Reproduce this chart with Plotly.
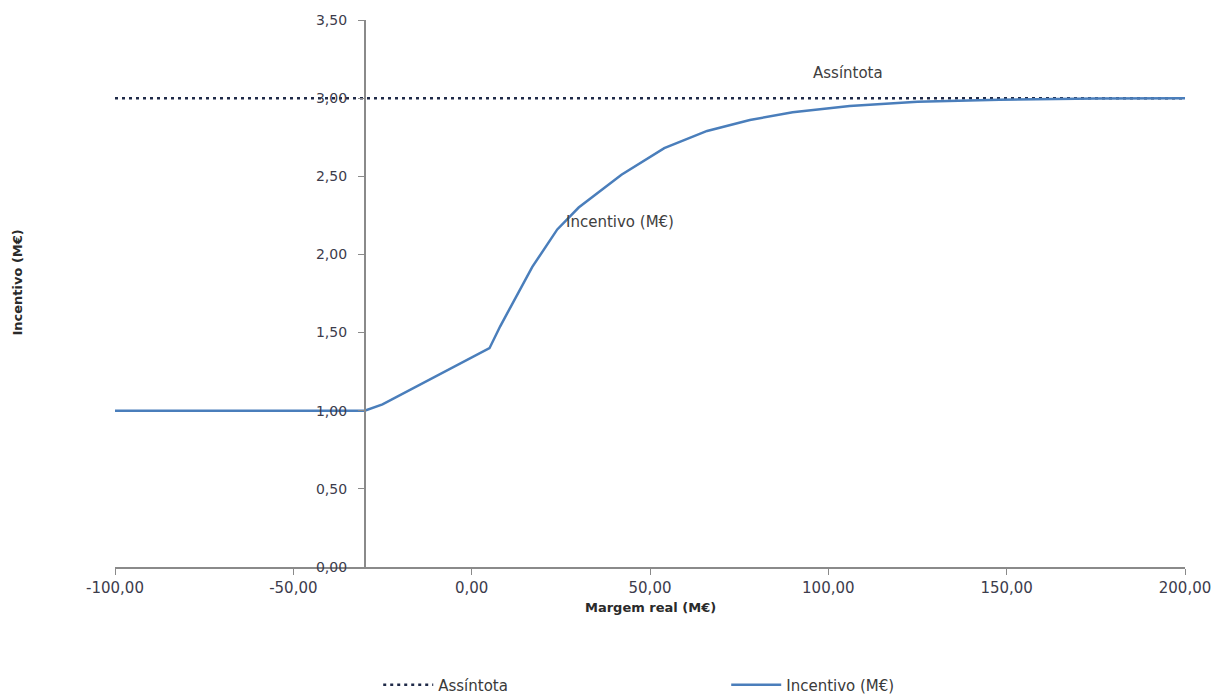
import plotly.graph_objects as go

# Curve: incentive as a function of the real margin (both in M€)
margem = [-100, -30, -25, 5, 8, 17, 24, 30, 42, 54, 66, 78, 90, 106, 125, 148, 175, 200]
incentivo = [1.00, 1.00, 1.04, 1.40, 1.54, 1.92, 2.16, 2.30, 2.51, 2.68, 2.79, 2.86,
             2.91, 2.95, 2.977, 2.99, 2.997, 3.00]

# Horizontal asymptote
assintota_x = [-100, 200]
assintota_y = [3.00, 3.00]

x_ticks = [-100, -50, 0, 50, 100, 150, 200]
y_ticks = [0, 0.5, 1.0, 1.5, 2.0, 2.5, 3.0, 3.5]


def pt(v):
    return f"{v:,.2f}".replace(",", " ").replace(".", ",")


FONT = "DejaVu Sans"
TICK_COLOR = "#3c3c4c"
AXIS_COLOR = "#8a8a8a"

fig = go.Figure()
fig.add_trace(go.Scatter(
    x=assintota_x, y=assintota_y, mode="lines", name="Assíntota",
    line=dict(color="#1f2a48", width=2.5, dash="3px,4px"),
))
fig.add_trace(go.Scatter(
    x=margem, y=incentivo, mode="lines", name="Incentivo (M€)",
    line=dict(color="#4a7ebb", width=2.5),
))

fig.update_layout(
    width=1216, height=695,
    margin=dict(l=115, r=31, t=20, b=128, autoexpand=False),
    paper_bgcolor="white", plot_bgcolor="white",
    font=dict(family=FONT, size=13, color=TICK_COLOR),
    showlegend=True,
    legend=dict(
        orientation="h", x=0.246, xanchor="left", y=-0.2157, yanchor="middle",
        itemwidth=50, entrywidth=283, entrywidthmode="pixels",
        font=dict(family=FONT, size=15, color="#3a3a3a"),
    ),
    xaxis=dict(
        range=[-100, 200], domain=[0, 1],
        tickvals=x_ticks, ticktext=[pt(v) for v in x_ticks],
        showgrid=False, zeroline=False,
        showline=True, linecolor=AXIS_COLOR, linewidth=1.5,
        ticks="outside", ticklen=6, tickcolor=AXIS_COLOR,
        tickfont=dict(family=FONT, size=15, color=TICK_COLOR),
    ),
    yaxis=dict(
        range=[0, 3.5], anchor="free", position=(-30 + 100) / 300,
        tickvals=y_ticks, ticktext=[pt(v) for v in y_ticks],
        showgrid=False, zeroline=False,
        showline=True, linecolor=AXIS_COLOR, linewidth=1.5,
        ticks="outside", ticklen=6, tickcolor=AXIS_COLOR,
        ticklabelstandoff=8,
        tickfont=dict(family=FONT, size=14, color=TICK_COLOR),
    ),
    annotations=[
        dict(text="<b>Margem real (M€)</b>", xref="paper", yref="paper",
             x=0.5, y=-40 / 547, xanchor="center", yanchor="middle",
             showarrow=False, font=dict(family=FONT, size=13, color="#2a2a2a")),
        dict(text="<b>Incentivo (M€)</b>", xref="paper", yref="paper",
             x=-97 / 1070, y=0.52, xanchor="center", yanchor="middle",
             textangle=-90, showarrow=False,
             font=dict(family=FONT, size=13, color="#2a2a2a")),
        dict(text="Assíntota", xref="x", yref="y", x=105.5, y=3.16,
             showarrow=False, font=dict(family=FONT, size=15, color="#404040")),
        dict(text="Incentivo (M€)", xref="x", yref="y", x=41.6, y=2.21,
             showarrow=False, font=dict(family=FONT, size=15, color="#404040")),
    ],
)

fig.write_html("out.html")
